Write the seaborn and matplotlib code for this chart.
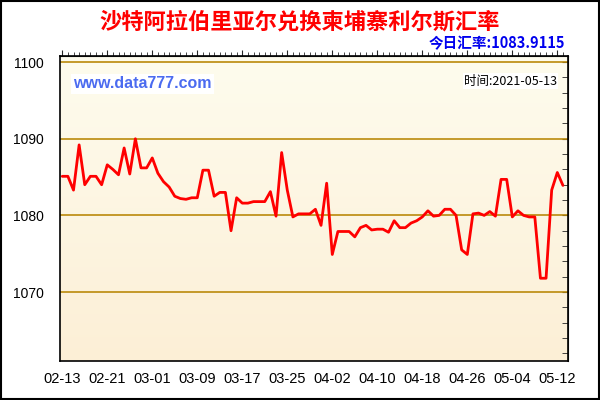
import numpy as np
import pandas as pd
import matplotlib
matplotlib.use("Agg")
import matplotlib.pyplot as plt
import matplotlib.dates as mdates
from matplotlib.ticker import MultipleLocator, FixedLocator
from matplotlib.patches import Rectangle
import seaborn as sns

# --- data ---
dates = pd.date_range("2021-02-13", "2021-05-13", freq="D")
rates = [
    1085.1, 1085.1, 1083.3, 1089.2, 1084.0, 1085.1, 1085.1, 1084.0, 1086.6, 1086.0,
    1085.3, 1088.8, 1085.4, 1090.0, 1086.2, 1086.2, 1087.5, 1085.5, 1084.4, 1083.7,
    1082.5, 1082.2, 1082.1, 1082.3, 1082.3, 1085.9, 1085.9, 1082.5, 1083.0, 1083.0,
    1078.0, 1082.3, 1081.6, 1081.6, 1081.8, 1081.8, 1081.8, 1083.1, 1079.9, 1088.2,
    1083.3, 1079.8, 1080.2, 1080.2, 1080.2, 1080.8, 1078.7, 1084.2, 1074.9, 1077.9,
    1077.9, 1077.9, 1077.2, 1078.4, 1078.7, 1078.1, 1078.2, 1078.2, 1077.8, 1079.3,
    1078.4, 1078.4, 1079.0, 1079.3, 1079.8, 1080.6, 1079.9, 1080.0, 1080.8, 1080.8,
    1080.0, 1075.5, 1074.9, 1080.2, 1080.3, 1080.0, 1080.5, 1079.9, 1084.7, 1084.7,
    1079.8, 1080.6, 1080.0, 1079.8, 1079.8, 1071.8, 1071.8, 1083.3, 1085.6, 1083.9115,
]
y_ticks = [1070, 1080, 1090, 1100]
title = "沙特阿拉伯里亚尔兑换柬埔寨利尔斯汇率"
today_text = "今日汇率:1083.9115"
site_text = "www.data777.com"
time_text = "时间:2021-05-13"

df = pd.DataFrame({"date": dates, "rate": rates})

sns.set_style("white")
plt.rcParams["font.family"] = ["Liberation Sans", "Noto Sans CJK SC", "DejaVu Sans"]

W, H = 600, 400
fig = plt.figure(figsize=(6, 4), dpi=100)
fig.patch.set_facecolor("white")

# plot area in pixels: left 60, right 568, top 56, bottom 361
ax = fig.add_axes([60 / W, 1 - 361 / H, 508 / W, 305 / H])

# gradient background
grad = np.linspace(0, 1, 256).reshape(-1, 1)
cmap = matplotlib.colors.LinearSegmentedColormap.from_list("bg", ["#FEFCEE", "#FCEFD6"])
ax.imshow(grad, aspect="auto", cmap=cmap, extent=[0, 1, 0, 1],
          transform=ax.transAxes, zorder=0)

for v in y_ticks:
    ax.axhline(v, color="#BA8A0C", lw=1.2, zorder=1)

sns.lineplot(data=df, x="date", y="rate", ax=ax, color="#FF0000", lw=2.0, zorder=3)

x0 = mdates.date2num(dates[0])
ax.set_xlim(x0 - 0.4, x0 + 89.9)
ax.set_ylim(1061.0, 1100.8)
ax.set_xlabel("")
ax.set_ylabel("")

ax.xaxis.set_major_locator(FixedLocator(mdates.date2num(dates[::8])))
ax.xaxis.set_major_formatter(mdates.DateFormatter("%m-%d"))
ax.xaxis.set_minor_locator(mdates.DayLocator())
ax.yaxis.set_major_locator(FixedLocator(y_ticks))
ax.yaxis.set_minor_locator(MultipleLocator(2))

for s in ax.spines.values():
    s.set_color("black")
    s.set_linewidth(1.2)

ax.tick_params(axis="both", which="major", direction="inout", length=8, width=1,
               color="black", labelcolor="black", pad=4)
ax.tick_params(axis="both", which="minor", direction="inout", length=4, width=1,
               color="black")
ax.tick_params(axis="x", which="major", labelsize=10.5)
ax.tick_params(axis="y", which="major", labelsize=10, pad=7.5)

# ticks along top and right
top = ax.secondary_xaxis("top")
top.xaxis.set_major_locator(FixedLocator(mdates.date2num(dates[::8])))
top.xaxis.set_minor_locator(MultipleLocator(1))
top.tick_params(which="major", direction="out", length=4, labeltop=False)
top.tick_params(which="minor", direction="out", length=3)
right = ax.secondary_yaxis("right")
right.yaxis.set_major_locator(FixedLocator(y_ticks))
right.yaxis.set_minor_locator(MultipleLocator(2))
right.tick_params(which="both", direction="in", length=4, labelright=False)

# texts
fig.text(0.5, 1 - 22 / H, title, ha="center", va="center", color="#FF0000",
         fontsize=16, fontweight="bold", family=["Noto Sans CJK SC", "DejaVu Sans"])
fig.text(565 / W, 1 - 43 / H, today_text, ha="right", va="center", color="#0000EE",
         fontsize=10.5, fontweight="bold", family=["Noto Sans CJK SC", "DejaVu Sans"])
fig.text(73 / W, 1 - 84 / H, site_text, ha="left", va="center", color="#4B6BF0",
         fontsize=11.5, fontweight="bold", family=["Liberation Sans"],
         bbox=dict(facecolor="#FFFFFF", edgecolor="none", pad=1.5))
fig.text(557 / W, 1 - 81 / H, time_text, ha="right", va="center", color="black",
         fontsize=9, family=["Noto Sans CJK SC", "DejaVu Sans"],
         bbox=dict(facecolor="#FFFFFF", edgecolor="none", pad=1.0))

# outer border
fig.patches.append(Rectangle((0.001, 0.002), 0.997, 0.996, transform=fig.transFigure,
                             fill=False, edgecolor="black", lw=1.5))

fig.savefig("out.png", dpi=100)
